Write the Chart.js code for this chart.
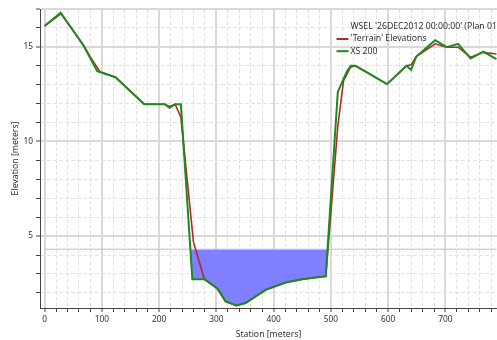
<!DOCTYPE html>
<html>
<head>
<meta charset="utf-8">
<script src="https://cdn.jsdelivr.net/npm/chart.js@4/dist/chart.umd.min.js"></script>
<style>
  html, body { margin: 0; padding: 0; background: #ffffff; }
  #wrap { width: 497px; height: 340px; }
</style>
</head>
<body>
<div id="wrap"><canvas id="chart" width="497" height="340"></canvas></div>
<script>
// Water surface elevation for the profile
const wselLabel = "WSEL '26DEC2012 00:00:00' (Plan 01)";
const wselElevation = 4.31;

// Terrain elevations sampled along the cross section
const terrainLabel = "'Terrain' Elevations";
const terrainStations   = [0, 29, 68, 80, 97, 124, 174, 210, 218, 228, 238, 260, 279, 302, 316, 335, 351, 386, 421, 450, 470, 491, 512, 522, 534, 543, 598, 632, 640, 649, 682, 702, 722, 744, 766, 789];
const terrainElevations = [16.1, 16.75, 15.07, 14.45, 13.68, 13.39, 11.97, 11.97, 11.85, 11.97, 11.28, 4.68, 2.72, 2.22, 1.55, 1.33, 1.46, 2.16, 2.55, 2.72, 2.8, 2.87, 10.8, 13.2, 13.92, 14.0, 13.03, 14.0, 14.05, 14.49, 15.16, 14.98, 14.98, 14.45, 14.71, 14.62];

// Cross section XS 200 geometry
const xsLabel = "XS 200";
const xsStations   = [0, 28, 68, 92, 124, 174, 210, 218, 229, 238, 258, 279, 302, 316, 335, 351, 386, 421, 450, 470, 491, 512, 528, 535, 543, 598, 632, 640, 649, 682, 702, 722, 744, 766, 789];
const xsElevations = [16.1, 16.8, 15.07, 13.71, 13.39, 11.97, 11.97, 11.78, 11.97, 11.97, 2.72, 2.72, 2.22, 1.55, 1.33, 1.46, 2.16, 2.55, 2.72, 2.8, 2.87, 12.62, 13.71, 14.0, 14.0, 13.03, 14.0, 13.79, 14.49, 15.35, 14.98, 15.16, 14.38, 14.75, 14.35];

// Axis tick labels
const stationTickLabels = [0, 100, 200, 300, 400, 500, 600, 700];
const elevationTickLabels = [5, 10, 15];

const FONT = "'Noto Sans', 'Open Sans', sans-serif";
const TEXT = '#333333';

const toPoints = (xs, ys) => xs.map((x, i) => ({ x: x, y: ys[i] }));

function minorTicks(from, to, step) {
  const out = [];
  for (let v = from; v <= to + 1e-9; v += step) out.push({ value: v });
  return out;
}

// Legend drawn inside the plot area, top right
const insideLegend = {
  id: 'insideLegend',
  afterDraw(chart) {
    const ctx = chart.ctx;
    const ds = chart.data.datasets;
    const x0 = 336.5, textX = 350.5, y0 = 26.8, rowH = 12.2;
    ctx.save();
    ctx.font = "8.7px " + FONT;
    ctx.textBaseline = 'middle';
    ds.forEach((d, i) => {
      const y = y0 + i * rowH;
      if (d.legendMarker !== false) {
        ctx.strokeStyle = d.borderColor;
        ctx.lineWidth = 2;
        ctx.beginPath();
        ctx.moveTo(x0, y);
        ctx.lineTo(x0 + 12, y);
        ctx.stroke();
      }
      ctx.fillStyle = TEXT;
      ctx.fillText(d.label, textX, y);
    });
    ctx.restore();
  }
};

const majorGrid = '#d9d9d9';
const minorGrid = '#e3e3e3';
const isMajorX = (v) => v % 100 === 0;
const isMajorY = (v) => v % 5 === 0 || v === 17;

new Chart(document.getElementById('chart'), {
  type: 'line',
  data: {
    datasets: [
      {
        label: wselLabel,
        data: [{ x: xsStations[0], y: wselElevation }, { x: xsStations[xsStations.length - 1], y: wselElevation }],
        borderColor: 'rgba(185,185,255,0.95)',
        borderWidth: 1,
        pointRadius: 0,
        fill: false,
        order: 3,
        legendMarker: false
      },
      {
        label: terrainLabel,
        data: toPoints(terrainStations, terrainElevations),
        borderColor: '#b22a2a',
        borderWidth: 1.6,
        pointRadius: 0,
        fill: false,
        order: 2
      },
      {
        label: xsLabel,
        data: toPoints(xsStations, xsElevations),
        borderColor: '#1c8a1c',
        borderWidth: 2,
        pointRadius: 0,
        fill: {
          target: { value: wselElevation },
          above: 'rgba(0,0,0,0)',
          below: '#7f7fff'
        },
        order: 1
      }
    ]
  },
  options: {
    responsive: false,
    animation: false,
    devicePixelRatio: 1,
    events: [],
    layout: { padding: { top: 9, right: 0, left: 0, bottom: 0 } },
    elements: { line: { tension: 0 } },
    plugins: {
      legend: { display: false },
      tooltip: { enabled: false },
      filler: { drawTime: 'beforeDatasetsDraw' }
    },
    scales: {
      x: {
        type: 'linear',
        min: -8,
        max: 790,
        afterBuildTicks: (scale) => { scale.ticks = minorTicks(0, 780, 20); },
        afterFit: (scale) => { scale.height = 32; },
        ticks: {
          autoSkip: false,
          maxRotation: 0,
          padding: 3,
          color: TEXT,
          font: { family: FONT, size: 8.3 },
          callback: (v) => stationTickLabels.includes(v) ? String(v) : ''
        },
        grid: {
          color: (c) => (c.tick && isMajorX(c.tick.value)) ? majorGrid : minorGrid,
          lineWidth: (c) => (c.tick && isMajorX(c.tick.value)) ? 2 : 1,
          tickColor: '#444444',
          tickWidth: 1,
          tickLength: 4
        },
        border: {
          color: '#444444',
          width: 1,
          dash: (c) => (c.tick && !isMajorX(c.tick.value)) ? [4, 2] : []
        },
        title: {
          display: true,
          text: 'Station [meters]',
          color: TEXT,
          font: { family: FONT, size: 8.7 },
          padding: { top: 0, bottom: 0 }
        }
      },
      y: {
        type: 'linear',
        min: 1.2,
        max: 17,
        afterBuildTicks: (scale) => { scale.ticks = minorTicks(2, 17, 1); },
        afterFit: (scale) => { scale.width = 40; },
        ticks: {
          autoSkip: false,
          padding: 3,
          color: TEXT,
          font: { family: FONT, size: 8.3 },
          callback: (v) => elevationTickLabels.includes(v) ? String(v) : ''
        },
        grid: {
          color: (c) => (c.tick && isMajorY(c.tick.value)) ? majorGrid : minorGrid,
          lineWidth: (c) => (c.tick && isMajorY(c.tick.value)) ? 2 : 1,
          tickColor: '#444444',
          tickWidth: 1,
          tickLength: 4
        },
        border: {
          color: '#444444',
          width: 1,
          dash: (c) => (c.tick && !isMajorY(c.tick.value)) ? [4, 2] : []
        },
        title: {
          display: true,
          text: 'Elevation [meters]',
          color: TEXT,
          font: { family: FONT, size: 8.7 },
          padding: { top: 10, bottom: 0 }
        }
      }
    }
  },
  plugins: [insideLegend]
});
</script>
</body>
</html>
